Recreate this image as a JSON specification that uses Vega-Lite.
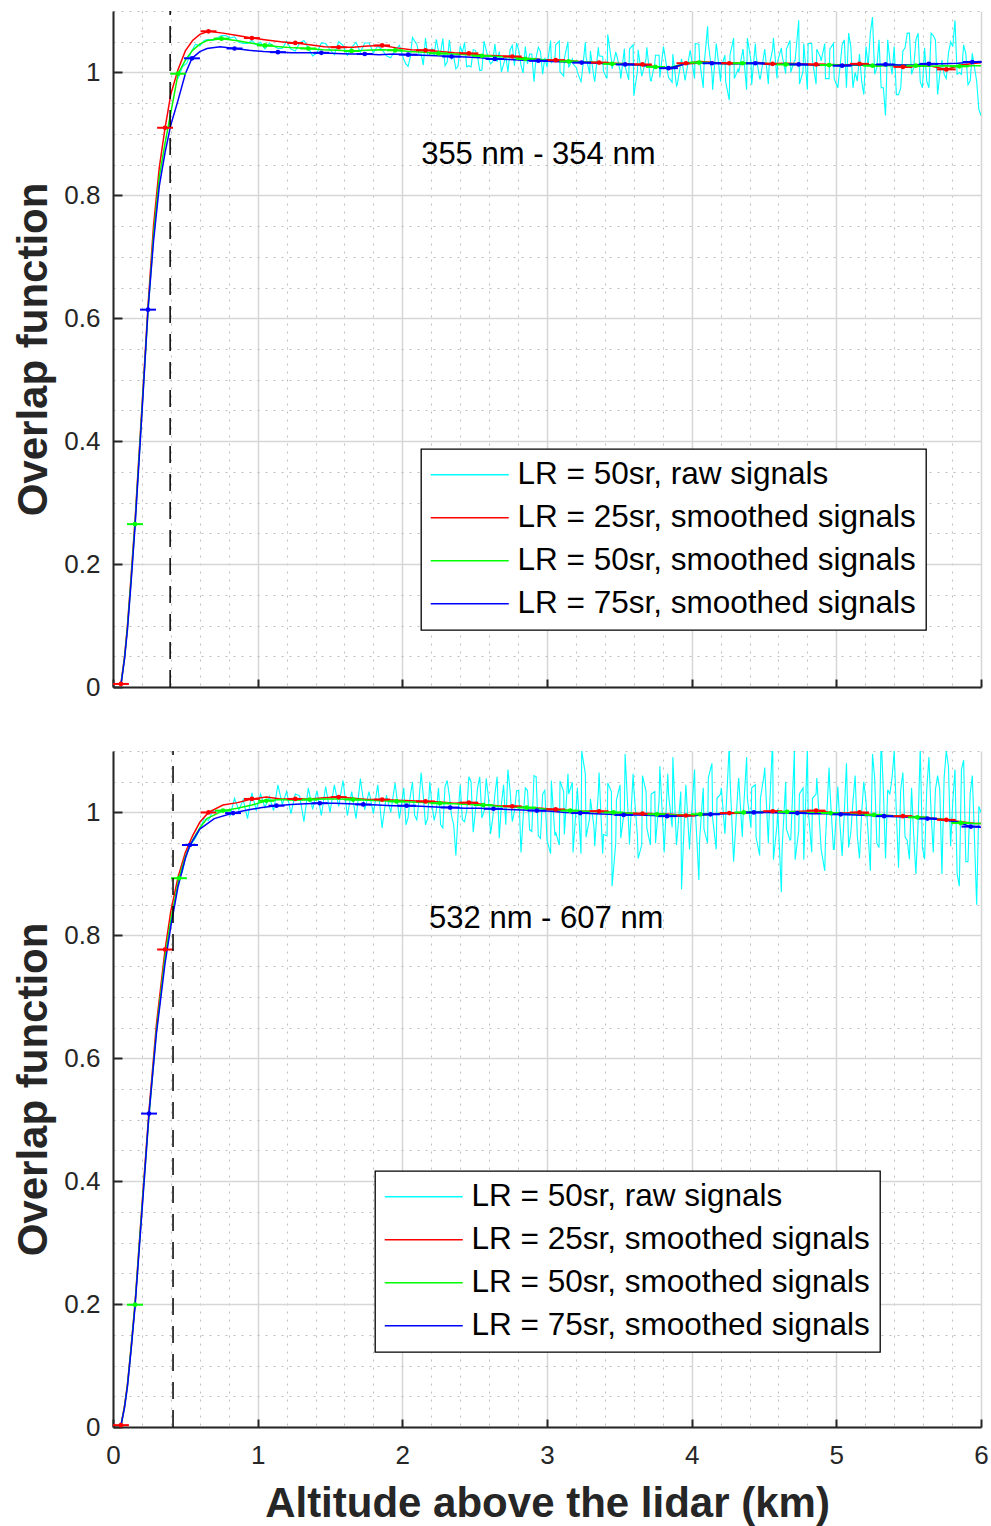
{
"$schema": "https://vega.github.io/schema/vega-lite/v6.json",
"padding": {"left": 12, "top": 10, "right": 10, "bottom": 4},
"background": "white",
"config": {"view": {"stroke": null}, "font": "Liberation Sans", "legend": {"strokeWidth": 1.3}},
"spacing": 64,
"bounds": "flush",
"resolve": {"scale": {"color": "independent", "x": "independent", "y": "independent"}},
"datasets": {"d": [
{"p":"a","s":"c","x":0.45,"y":0.990},{"p":"a","s":"c","x":0.48,"y":1.009},{"p":"a","s":"c","x":0.51,"y":1.015},{"p":"a","s":"c","x":0.54,"y":1.033},{"p":"a","s":"c","x":0.57,"y":1.046},{"p":"a","s":"c","x":0.60,"y":1.043},{"p":"a","s":"c","x":0.63,"y":1.052},{"p":"a","s":"c","x":0.66,"y":1.054},{"p":"a","s":"c","x":0.69,"y":1.052},{"p":"a","s":"c","x":0.72,"y":1.056},{"p":"a","s":"c","x":0.75,"y":1.060},{"p":"a","s":"c","x":0.78,"y":1.060},{"p":"a","s":"c","x":0.81,"y":1.056},{"p":"a","s":"c","x":0.84,"y":1.058},{"p":"a","s":"c","x":0.87,"y":1.049},{"p":"a","s":"c","x":0.90,"y":1.047},{"p":"a","s":"c","x":0.93,"y":1.047},{"p":"a","s":"c","x":0.96,"y":1.052},{"p":"a","s":"c","x":0.99,"y":1.045},
{"p":"a","s":"c","x":1.02,"y":1.049},{"p":"a","s":"c","x":1.05,"y":1.038},{"p":"a","s":"c","x":1.08,"y":1.048},{"p":"a","s":"c","x":1.11,"y":1.043},{"p":"a","s":"c","x":1.14,"y":1.039},{"p":"a","s":"c","x":1.17,"y":1.039},{"p":"a","s":"c","x":1.20,"y":1.051},{"p":"a","s":"c","x":1.23,"y":1.038},{"p":"a","s":"c","x":1.26,"y":1.035},{"p":"a","s":"c","x":1.29,"y":1.048},{"p":"a","s":"c","x":1.32,"y":1.052},{"p":"a","s":"c","x":1.35,"y":1.040},{"p":"a","s":"c","x":1.38,"y":1.027},{"p":"a","s":"c","x":1.41,"y":1.032},{"p":"a","s":"c","x":1.44,"y":1.048},{"p":"a","s":"c","x":1.47,"y":1.047},{"p":"a","s":"c","x":1.50,"y":1.037},{"p":"a","s":"c","x":1.53,"y":1.029},{"p":"a","s":"c","x":1.56,"y":1.050},{"p":"a","s":"c","x":1.59,"y":1.044},{"p":"a","s":"c","x":1.62,"y":1.028},{"p":"a","s":"c","x":1.65,"y":1.041},{"p":"a","s":"c","x":1.68,"y":1.049},{"p":"a","s":"c","x":1.71,"y":1.033},{"p":"a","s":"c","x":1.74,"y":1.048},{"p":"a","s":"c","x":1.77,"y":1.048},{"p":"a","s":"c","x":1.80,"y":1.032},{"p":"a","s":"c","x":1.83,"y":1.043},{"p":"a","s":"c","x":1.86,"y":1.037},{"p":"a","s":"c","x":1.89,"y":1.027},{"p":"a","s":"c","x":1.92,"y":1.024},{"p":"a","s":"c","x":1.95,"y":1.036},{"p":"a","s":"c","x":1.98,"y":1.044},
{"p":"a","s":"c","x":2.01,"y":1.021},{"p":"a","s":"c","x":2.04,"y":1.010},{"p":"a","s":"c","x":2.07,"y":1.057},{"p":"a","s":"c","x":2.10,"y":1.046},{"p":"a","s":"c","x":2.13,"y":1.030},{"p":"a","s":"c","x":2.16,"y":1.056},{"p":"a","s":"c","x":2.19,"y":1.029},{"p":"a","s":"c","x":2.22,"y":1.028},{"p":"a","s":"c","x":2.25,"y":1.034},{"p":"a","s":"c","x":2.28,"y":1.055},{"p":"a","s":"c","x":2.31,"y":1.017},{"p":"a","s":"c","x":2.34,"y":1.022},{"p":"a","s":"c","x":2.37,"y":1.006},{"p":"a","s":"c","x":2.40,"y":1.043},{"p":"a","s":"c","x":2.43,"y":1.049},{"p":"a","s":"c","x":2.46,"y":1.011},{"p":"a","s":"c","x":2.49,"y":1.037},{"p":"a","s":"c","x":2.52,"y":1.026},{"p":"a","s":"c","x":2.55,"y":1.004},{"p":"a","s":"c","x":2.58,"y":1.036},{"p":"a","s":"c","x":2.61,"y":1.014},{"p":"a","s":"c","x":2.64,"y":1.046},{"p":"a","s":"c","x":2.67,"y":1.034},{"p":"a","s":"c","x":2.70,"y":1.013},{"p":"a","s":"c","x":2.73,"y":1.001},{"p":"a","s":"c","x":2.76,"y":1.044},{"p":"a","s":"c","x":2.79,"y":1.048},{"p":"a","s":"c","x":2.82,"y":1.012},{"p":"a","s":"c","x":2.85,"y":1.042},{"p":"a","s":"c","x":2.88,"y":1.030},{"p":"a","s":"c","x":2.91,"y":0.985},{"p":"a","s":"c","x":2.94,"y":1.041},{"p":"a","s":"c","x":2.97,"y":0.997},
{"p":"a","s":"c","x":3.00,"y":1.009},{"p":"a","s":"c","x":3.03,"y":1.016},{"p":"a","s":"c","x":3.06,"y":1.045},{"p":"a","s":"c","x":3.09,"y":1.001},{"p":"a","s":"c","x":3.12,"y":1.023},{"p":"a","s":"c","x":3.15,"y":1.008},{"p":"a","s":"c","x":3.18,"y":1.014},{"p":"a","s":"c","x":3.21,"y":1.000},{"p":"a","s":"c","x":3.24,"y":0.993},{"p":"a","s":"c","x":3.27,"y":1.025},{"p":"a","s":"c","x":3.30,"y":1.035},{"p":"a","s":"c","x":3.33,"y":0.985},{"p":"a","s":"c","x":3.36,"y":1.027},{"p":"a","s":"c","x":3.39,"y":1.002},{"p":"a","s":"c","x":3.42,"y":1.062},{"p":"a","s":"c","x":3.45,"y":1.006},{"p":"a","s":"c","x":3.48,"y":1.030},{"p":"a","s":"c","x":3.51,"y":0.990},{"p":"a","s":"c","x":3.54,"y":1.010},{"p":"a","s":"c","x":3.57,"y":1.038},{"p":"a","s":"c","x":3.60,"y":0.962},{"p":"a","s":"c","x":3.63,"y":1.037},{"p":"a","s":"c","x":3.66,"y":0.998},{"p":"a","s":"c","x":3.69,"y":1.041},{"p":"a","s":"c","x":3.72,"y":0.986},{"p":"a","s":"c","x":3.75,"y":1.028},{"p":"a","s":"c","x":3.78,"y":0.992},{"p":"a","s":"c","x":3.81,"y":1.035},{"p":"a","s":"c","x":3.84,"y":0.992},{"p":"a","s":"c","x":3.87,"y":1.030},{"p":"a","s":"c","x":3.90,"y":0.980},{"p":"a","s":"c","x":3.93,"y":1.022},{"p":"a","s":"c","x":3.96,"y":0.995},{"p":"a","s":"c","x":3.99,"y":1.036},
{"p":"a","s":"c","x":4.02,"y":0.990},{"p":"a","s":"c","x":4.05,"y":1.046},{"p":"a","s":"c","x":4.08,"y":0.975},{"p":"a","s":"c","x":4.11,"y":1.075},{"p":"a","s":"c","x":4.14,"y":1.000},{"p":"a","s":"c","x":4.17,"y":1.047},{"p":"a","s":"c","x":4.20,"y":0.985},{"p":"a","s":"c","x":4.23,"y":1.028},{"p":"a","s":"c","x":4.26,"y":0.955},{"p":"a","s":"c","x":4.29,"y":1.056},{"p":"a","s":"c","x":4.32,"y":1.005},{"p":"a","s":"c","x":4.35,"y":1.032},{"p":"a","s":"c","x":4.38,"y":0.972},{"p":"a","s":"c","x":4.41,"y":1.019},{"p":"a","s":"c","x":4.44,"y":1.047},{"p":"a","s":"c","x":4.47,"y":0.990},{"p":"a","s":"c","x":4.50,"y":1.030},{"p":"a","s":"c","x":4.53,"y":0.981},{"p":"a","s":"c","x":4.56,"y":1.038},{"p":"a","s":"c","x":4.59,"y":0.990},{"p":"a","s":"c","x":4.62,"y":1.040},{"p":"a","s":"c","x":4.65,"y":0.998},{"p":"a","s":"c","x":4.68,"y":1.052},{"p":"a","s":"c","x":4.71,"y":1.019},{"p":"a","s":"c","x":4.74,"y":1.085},{"p":"a","s":"c","x":4.77,"y":1.002},{"p":"a","s":"c","x":4.80,"y":0.972},{"p":"a","s":"c","x":4.83,"y":1.047},{"p":"a","s":"c","x":4.86,"y":0.981},{"p":"a","s":"c","x":4.89,"y":1.025},{"p":"a","s":"c","x":4.92,"y":1.047},{"p":"a","s":"c","x":4.95,"y":0.990},{"p":"a","s":"c","x":4.98,"y":1.047},
{"p":"a","s":"c","x":5.01,"y":0.975},{"p":"a","s":"c","x":5.04,"y":1.045},{"p":"a","s":"c","x":5.07,"y":0.975},{"p":"a","s":"c","x":5.10,"y":1.042},{"p":"a","s":"c","x":5.13,"y":1.000},{"p":"a","s":"c","x":5.16,"y":1.030},{"p":"a","s":"c","x":5.19,"y":0.964},{"p":"a","s":"c","x":5.22,"y":1.010},{"p":"a","s":"c","x":5.25,"y":1.090},{"p":"a","s":"c","x":5.28,"y":1.008},{"p":"a","s":"c","x":5.31,"y":0.975},{"p":"a","s":"c","x":5.34,"y":0.930},{"p":"a","s":"c","x":5.37,"y":1.020},{"p":"a","s":"c","x":5.40,"y":1.042},{"p":"a","s":"c","x":5.43,"y":0.964},{"p":"a","s":"c","x":5.46,"y":1.035},{"p":"a","s":"c","x":5.49,"y":1.064},{"p":"a","s":"c","x":5.52,"y":0.997},{"p":"a","s":"c","x":5.55,"y":1.053},{"p":"a","s":"c","x":5.58,"y":0.985},{"p":"a","s":"c","x":5.61,"y":1.040},{"p":"a","s":"c","x":5.64,"y":0.975},{"p":"a","s":"c","x":5.67,"y":1.060},{"p":"a","s":"c","x":5.70,"y":0.964},{"p":"a","s":"c","x":5.73,"y":1.020},{"p":"a","s":"c","x":5.76,"y":0.990},{"p":"a","s":"c","x":5.79,"y":1.050},{"p":"a","s":"c","x":5.82,"y":1.085},{"p":"a","s":"c","x":5.85,"y":1.000},{"p":"a","s":"c","x":5.88,"y":1.045},{"p":"a","s":"c","x":5.91,"y":0.980},{"p":"a","s":"c","x":5.94,"y":1.031},{"p":"a","s":"c","x":5.97,"y":0.986},{"p":"a","s":"c","x":6.00,"y":0.930},
{"p":"a","s":"c","x":2.025,"y":1.014},{"p":"a","s":"c","x":2.055,"y":1.025},{"p":"a","s":"c","x":2.085,"y":1.051},{"p":"a","s":"c","x":2.115,"y":1.029},{"p":"a","s":"c","x":2.145,"y":1.012},{"p":"a","s":"c","x":2.175,"y":1.028},{"p":"a","s":"c","x":2.205,"y":1.039},{"p":"a","s":"c","x":2.235,"y":1.054},{"p":"a","s":"c","x":2.265,"y":1.033},{"p":"a","s":"c","x":2.295,"y":1.011},{"p":"a","s":"c","x":2.325,"y":1.053},{"p":"a","s":"c","x":2.355,"y":1.026},{"p":"a","s":"c","x":2.385,"y":1.010},{"p":"a","s":"c","x":2.415,"y":1.032},{"p":"a","s":"c","x":2.445,"y":1.009},{"p":"a","s":"c","x":2.475,"y":1.009},{"p":"a","s":"c","x":2.505,"y":1.036},{"p":"a","s":"c","x":2.535,"y":1.003},{"p":"a","s":"c","x":2.565,"y":1.051},{"p":"a","s":"c","x":2.595,"y":1.023},{"p":"a","s":"c","x":2.625,"y":1.018},{"p":"a","s":"c","x":2.655,"y":1.017},{"p":"a","s":"c","x":2.685,"y":1.001},{"p":"a","s":"c","x":2.715,"y":1.027},{"p":"a","s":"c","x":2.745,"y":1.037},{"p":"a","s":"c","x":2.775,"y":1.011},{"p":"a","s":"c","x":2.805,"y":1.036},{"p":"a","s":"c","x":2.835,"y":0.999},{"p":"a","s":"c","x":2.865,"y":1.014},{"p":"a","s":"c","x":2.895,"y":1.030},{"p":"a","s":"c","x":2.925,"y":1.025},{"p":"a","s":"c","x":2.955,"y":1.034},{"p":"a","s":"c","x":2.985,"y":1.024},
{"p":"a","s":"c","x":3.025,"y":1.052},{"p":"a","s":"c","x":3.055,"y":1.023},{"p":"a","s":"c","x":3.085,"y":1.051},{"p":"a","s":"c","x":3.115,"y":0.994},{"p":"a","s":"c","x":3.145,"y":1.050},{"p":"a","s":"c","x":3.175,"y":1.022},{"p":"a","s":"c","x":3.205,"y":1.007},{"p":"a","s":"c","x":3.235,"y":0.985},{"p":"a","s":"c","x":3.265,"y":1.049},{"p":"a","s":"c","x":3.295,"y":0.998},{"p":"a","s":"c","x":3.325,"y":0.991},{"p":"a","s":"c","x":3.355,"y":1.041},{"p":"a","s":"c","x":3.385,"y":1.026},{"p":"a","s":"c","x":3.415,"y":0.990},{"p":"a","s":"c","x":3.445,"y":1.020},{"p":"a","s":"c","x":3.475,"y":1.032},{"p":"a","s":"c","x":3.505,"y":1.003},{"p":"a","s":"c","x":3.535,"y":1.039},{"p":"a","s":"c","x":3.565,"y":0.988},{"p":"a","s":"c","x":3.595,"y":1.045},{"p":"a","s":"c","x":3.625,"y":1.002},{"p":"a","s":"c","x":3.655,"y":0.994},{"p":"a","s":"c","x":3.685,"y":1.023},{"p":"a","s":"c","x":3.715,"y":0.987},{"p":"a","s":"c","x":3.745,"y":1.015},{"p":"a","s":"c","x":3.775,"y":1.028},{"p":"a","s":"c","x":3.805,"y":1.042},{"p":"a","s":"c","x":3.835,"y":0.998},{"p":"a","s":"c","x":3.865,"y":0.984},{"p":"a","s":"c","x":3.895,"y":0.978},{"p":"a","s":"c","x":3.925,"y":1.015},{"p":"a","s":"c","x":3.955,"y":0.987},{"p":"a","s":"c","x":3.985,"y":1.030},
{"p":"a","s":"c","x":4.025,"y":1.047},{"p":"a","s":"c","x":4.055,"y":1.019},{"p":"a","s":"c","x":4.085,"y":1.009},{"p":"a","s":"c","x":4.115,"y":1.047},{"p":"a","s":"c","x":4.145,"y":0.972},{"p":"a","s":"c","x":4.175,"y":1.038},{"p":"a","s":"c","x":4.205,"y":1.009},{"p":"a","s":"c","x":4.235,"y":0.985},{"p":"a","s":"c","x":4.265,"y":1.028},{"p":"a","s":"c","x":4.295,"y":0.990},{"p":"a","s":"c","x":4.325,"y":1.000},{"p":"a","s":"c","x":4.355,"y":1.038},{"p":"a","s":"c","x":4.385,"y":1.056},{"p":"a","s":"c","x":4.415,"y":0.980},{"p":"a","s":"c","x":4.445,"y":1.028},{"p":"a","s":"c","x":4.475,"y":0.990},{"p":"a","s":"c","x":4.505,"y":1.038},{"p":"a","s":"c","x":4.535,"y":1.009},{"p":"a","s":"c","x":4.565,"y":1.056},{"p":"a","s":"c","x":4.595,"y":1.019},{"p":"a","s":"c","x":4.625,"y":1.028},{"p":"a","s":"c","x":4.655,"y":1.038},{"p":"a","s":"c","x":4.685,"y":1.000},{"p":"a","s":"c","x":4.715,"y":1.019},{"p":"a","s":"c","x":4.745,"y":0.981},{"p":"a","s":"c","x":4.775,"y":1.047},{"p":"a","s":"c","x":4.805,"y":1.047},{"p":"a","s":"c","x":4.835,"y":1.019},{"p":"a","s":"c","x":4.865,"y":1.038},{"p":"a","s":"c","x":4.895,"y":1.019},{"p":"a","s":"c","x":4.925,"y":0.990},{"p":"a","s":"c","x":4.955,"y":1.038},{"p":"a","s":"c","x":4.985,"y":0.990},
{"p":"a","s":"c","x":5.025,"y":1.008},{"p":"a","s":"c","x":5.055,"y":1.053},{"p":"a","s":"c","x":5.085,"y":1.064},{"p":"a","s":"c","x":5.115,"y":0.975},{"p":"a","s":"c","x":5.145,"y":0.986},{"p":"a","s":"c","x":5.175,"y":0.986},{"p":"a","s":"c","x":5.205,"y":1.042},{"p":"a","s":"c","x":5.235,"y":1.064},{"p":"a","s":"c","x":5.265,"y":0.997},{"p":"a","s":"c","x":5.295,"y":1.053},{"p":"a","s":"c","x":5.325,"y":0.975},{"p":"a","s":"c","x":5.355,"y":1.053},{"p":"a","s":"c","x":5.385,"y":0.997},{"p":"a","s":"c","x":5.415,"y":0.964},{"p":"a","s":"c","x":5.445,"y":0.975},{"p":"a","s":"c","x":5.475,"y":1.040},{"p":"a","s":"c","x":5.505,"y":1.064},{"p":"a","s":"c","x":5.535,"y":1.008},{"p":"a","s":"c","x":5.565,"y":1.064},{"p":"a","s":"c","x":5.595,"y":0.975},{"p":"a","s":"c","x":5.625,"y":0.986},{"p":"a","s":"c","x":5.655,"y":1.064},{"p":"a","s":"c","x":5.685,"y":1.053},{"p":"a","s":"c","x":5.715,"y":0.997},{"p":"a","s":"c","x":5.745,"y":0.997},{"p":"a","s":"c","x":5.775,"y":1.031},{"p":"a","s":"c","x":5.805,"y":1.042},{"p":"a","s":"c","x":5.835,"y":0.997},{"p":"a","s":"c","x":5.865,"y":0.997},{"p":"a","s":"c","x":5.895,"y":1.031},{"p":"a","s":"c","x":5.925,"y":0.986},{"p":"a","s":"c","x":5.955,"y":1.008},{"p":"a","s":"c","x":5.985,"y":0.940},

{"p":"a","s":"r","x":0.055,"y":0.005,"m":1,"e":0.055},{"p":"a","s":"r","x":0.08,"y":0.05},{"p":"a","s":"r","x":0.1,"y":0.1},{"p":"a","s":"r","x":0.125,"y":0.18},{"p":"a","s":"r","x":0.152,"y":0.27},{"p":"a","s":"r","x":0.2,"y":0.455},{"p":"a","s":"r","x":0.242,"y":0.62},{"p":"a","s":"r","x":0.28,"y":0.75},{"p":"a","s":"r","x":0.32,"y":0.845},{"p":"a","s":"r","x":0.36,"y":0.91,"m":1,"e":0.055},{"p":"a","s":"r","x":0.4,"y":0.965},{"p":"a","s":"r","x":0.45,"y":1.005},{"p":"a","s":"r","x":0.5,"y":1.035},{"p":"a","s":"r","x":0.55,"y":1.052},{"p":"a","s":"r","x":0.6,"y":1.062},{"p":"a","s":"r","x":0.66,"y":1.067,"m":1,"e":0.055},{"p":"a","s":"r","x":0.76,"y":1.064},{"p":"a","s":"r","x":0.86,"y":1.06},{"p":"a","s":"r","x":0.96,"y":1.056,"m":1,"e":0.055},{"p":"a","s":"r","x":1.06,"y":1.053},{"p":"a","s":"r","x":1.16,"y":1.05},{"p":"a","s":"r","x":1.26,"y":1.048,"m":1,"e":0.055},{"p":"a","s":"r","x":1.36,"y":1.045},{"p":"a","s":"r","x":1.46,"y":1.042},{"p":"a","s":"r","x":1.56,"y":1.041,"m":1,"e":0.055},{"p":"a","s":"r","x":1.66,"y":1.041},{"p":"a","s":"r","x":1.76,"y":1.043},{"p":"a","s":"r","x":1.86,"y":1.044,"m":1,"e":0.055},{"p":"a","s":"r","x":1.96,"y":1.04},{"p":"a","s":"r","x":2.06,"y":1.037},{"p":"a","s":"r","x":2.16,"y":1.036,"m":1,"e":0.065},{"p":"a","s":"r","x":2.26,"y":1.034},{"p":"a","s":"r","x":2.36,"y":1.032},{"p":"a","s":"r","x":2.46,"y":1.031,"m":1,"e":0.065},{"p":"a","s":"r","x":2.56,"y":1.028},{"p":"a","s":"r","x":2.66,"y":1.027},{"p":"a","s":"r","x":2.76,"y":1.026,"m":1,"e":0.065},{"p":"a","s":"r","x":2.86,"y":1.023},{"p":"a","s":"r","x":2.96,"y":1.021},{"p":"a","s":"r","x":3.06,"y":1.02,"m":1,"e":0.065},{"p":"a","s":"r","x":3.16,"y":1.019},{"p":"a","s":"r","x":3.26,"y":1.017},{"p":"a","s":"r","x":3.36,"y":1.016,"m":1,"e":0.065},{"p":"a","s":"r","x":3.46,"y":1.015},{"p":"a","s":"r","x":3.56,"y":1.014},{"p":"a","s":"r","x":3.66,"y":1.013,"m":1,"e":0.065},{"p":"a","s":"r","x":3.76,"y":1.009},{"p":"a","s":"r","x":3.86,"y":1.006},{"p":"a","s":"r","x":3.96,"y":1.015,"m":1,"e":0.065},{"p":"a","s":"r","x":4.06,"y":1.018},{"p":"a","s":"r","x":4.16,"y":1.016},{"p":"a","s":"r","x":4.26,"y":1.015,"m":1,"e":0.065},{"p":"a","s":"r","x":4.36,"y":1.015},{"p":"a","s":"r","x":4.46,"y":1.016},{"p":"a","s":"r","x":4.56,"y":1.014,"m":1,"e":0.065},{"p":"a","s":"r","x":4.66,"y":1.015},{"p":"a","s":"r","x":4.76,"y":1.014},{"p":"a","s":"r","x":4.86,"y":1.013,"m":1,"e":0.065},{"p":"a","s":"r","x":4.96,"y":1.013},{"p":"a","s":"r","x":5.06,"y":1.012},{"p":"a","s":"r","x":5.16,"y":1.014,"m":1,"e":0.065},{"p":"a","s":"r","x":5.26,"y":1.011},{"p":"a","s":"r","x":5.36,"y":1.012},{"p":"a","s":"r","x":5.46,"y":1.009,"m":1,"e":0.065},{"p":"a","s":"r","x":5.56,"y":1.01},{"p":"a","s":"r","x":5.66,"y":1.01},{"p":"a","s":"r","x":5.76,"y":1.005,"m":1,"e":0.065},{"p":"a","s":"r","x":5.86,"y":1.012},{"p":"a","s":"r","x":5.96,"y":1.015},{"p":"a","s":"r","x":6.0,"y":1.016},

{"p":"a","s":"g","x":0.055,"y":0.004},{"p":"a","s":"g","x":0.08,"y":0.048},{"p":"a","s":"g","x":0.1,"y":0.097},{"p":"a","s":"g","x":0.125,"y":0.175},{"p":"a","s":"g","x":0.152,"y":0.265,"m":1,"e":0.055},{"p":"a","s":"g","x":0.2,"y":0.45},{"p":"a","s":"g","x":0.242,"y":0.612},{"p":"a","s":"g","x":0.28,"y":0.735},{"p":"a","s":"g","x":0.32,"y":0.83},{"p":"a","s":"g","x":0.36,"y":0.885},{"p":"a","s":"g","x":0.4,"y":0.935},{"p":"a","s":"g","x":0.45,"y":0.998,"m":1,"e":0.055},{"p":"a","s":"g","x":0.5,"y":1.02},{"p":"a","s":"g","x":0.55,"y":1.036},{"p":"a","s":"g","x":0.6,"y":1.046},{"p":"a","s":"g","x":0.65,"y":1.052},{"p":"a","s":"g","x":0.75,"y":1.055,"m":1,"e":0.055},{"p":"a","s":"g","x":0.85,"y":1.052},{"p":"a","s":"g","x":0.95,"y":1.048},{"p":"a","s":"g","x":1.05,"y":1.044,"m":1,"e":0.055},{"p":"a","s":"g","x":1.15,"y":1.042},{"p":"a","s":"g","x":1.25,"y":1.04},{"p":"a","s":"g","x":1.35,"y":1.039,"m":1,"e":0.055},{"p":"a","s":"g","x":1.45,"y":1.037},{"p":"a","s":"g","x":1.55,"y":1.036},{"p":"a","s":"g","x":1.65,"y":1.035,"m":1,"e":0.055},{"p":"a","s":"g","x":1.75,"y":1.036},{"p":"a","s":"g","x":1.85,"y":1.037},{"p":"a","s":"g","x":1.95,"y":1.036,"m":1,"e":0.055},{"p":"a","s":"g","x":2.05,"y":1.034},{"p":"a","s":"g","x":2.15,"y":1.033},{"p":"a","s":"g","x":2.25,"y":1.031,"m":1,"e":0.065},{"p":"a","s":"g","x":2.35,"y":1.03},{"p":"a","s":"g","x":2.45,"y":1.029},{"p":"a","s":"g","x":2.55,"y":1.027,"m":1,"e":0.065},{"p":"a","s":"g","x":2.65,"y":1.026},{"p":"a","s":"g","x":2.75,"y":1.025},{"p":"a","s":"g","x":2.85,"y":1.022,"m":1,"e":0.065},{"p":"a","s":"g","x":2.95,"y":1.021},{"p":"a","s":"g","x":3.05,"y":1.02},{"p":"a","s":"g","x":3.15,"y":1.018,"m":1,"e":0.065},{"p":"a","s":"g","x":3.25,"y":1.017},{"p":"a","s":"g","x":3.35,"y":1.016},{"p":"a","s":"g","x":3.45,"y":1.014,"m":1,"e":0.065},{"p":"a","s":"g","x":3.55,"y":1.013},{"p":"a","s":"g","x":3.65,"y":1.012},{"p":"a","s":"g","x":3.75,"y":1.009,"m":1,"e":0.065},{"p":"a","s":"g","x":3.85,"y":1.008},{"p":"a","s":"g","x":3.95,"y":1.014},{"p":"a","s":"g","x":4.05,"y":1.016,"m":1,"e":0.065},{"p":"a","s":"g","x":4.15,"y":1.015},{"p":"a","s":"g","x":4.25,"y":1.014},{"p":"a","s":"g","x":4.35,"y":1.015,"m":1,"e":0.065},{"p":"a","s":"g","x":4.45,"y":1.015},{"p":"a","s":"g","x":4.55,"y":1.014},{"p":"a","s":"g","x":4.65,"y":1.013,"m":1,"e":0.065},{"p":"a","s":"g","x":4.75,"y":1.013},{"p":"a","s":"g","x":4.85,"y":1.012},{"p":"a","s":"g","x":4.95,"y":1.012,"m":1,"e":0.065},{"p":"a","s":"g","x":5.05,"y":1.011},{"p":"a","s":"g","x":5.15,"y":1.012},{"p":"a","s":"g","x":5.25,"y":1.011,"m":1,"e":0.065},{"p":"a","s":"g","x":5.35,"y":1.011},{"p":"a","s":"g","x":5.45,"y":1.012},{"p":"a","s":"g","x":5.55,"y":1.011,"m":1,"e":0.065},{"p":"a","s":"g","x":5.65,"y":1.01},{"p":"a","s":"g","x":5.75,"y":1.011},{"p":"a","s":"g","x":5.85,"y":1.01,"m":1,"e":0.065},{"p":"a","s":"g","x":5.95,"y":1.011},{"p":"a","s":"g","x":6.0,"y":1.011},

{"p":"a","s":"b","x":0.055,"y":0.003},{"p":"a","s":"b","x":0.08,"y":0.046},{"p":"a","s":"b","x":0.1,"y":0.094},{"p":"a","s":"b","x":0.125,"y":0.17},{"p":"a","s":"b","x":0.152,"y":0.26},{"p":"a","s":"b","x":0.2,"y":0.445},{"p":"a","s":"b","x":0.242,"y":0.614,"m":1,"e":0.055},{"p":"a","s":"b","x":0.28,"y":0.725},{"p":"a","s":"b","x":0.32,"y":0.815},{"p":"a","s":"b","x":0.36,"y":0.87},{"p":"a","s":"b","x":0.4,"y":0.915},{"p":"a","s":"b","x":0.45,"y":0.955},{"p":"a","s":"b","x":0.5,"y":0.998},{"p":"a","s":"b","x":0.546,"y":1.023,"m":1,"e":0.055},{"p":"a","s":"b","x":0.6,"y":1.034},{"p":"a","s":"b","x":0.65,"y":1.039},{"p":"a","s":"b","x":0.74,"y":1.042},{"p":"a","s":"b","x":0.84,"y":1.039,"m":1,"e":0.055},{"p":"a","s":"b","x":0.94,"y":1.036},{"p":"a","s":"b","x":1.04,"y":1.034},{"p":"a","s":"b","x":1.14,"y":1.033,"m":1,"e":0.055},{"p":"a","s":"b","x":1.24,"y":1.032},{"p":"a","s":"b","x":1.34,"y":1.032},{"p":"a","s":"b","x":1.44,"y":1.032,"m":1,"e":0.055},{"p":"a","s":"b","x":1.54,"y":1.031},{"p":"a","s":"b","x":1.64,"y":1.03},{"p":"a","s":"b","x":1.74,"y":1.03,"m":1,"e":0.055},{"p":"a","s":"b","x":1.84,"y":1.029},{"p":"a","s":"b","x":1.94,"y":1.03},{"p":"a","s":"b","x":2.04,"y":1.029,"m":1,"e":0.065},{"p":"a","s":"b","x":2.14,"y":1.028},{"p":"a","s":"b","x":2.24,"y":1.027},{"p":"a","s":"b","x":2.34,"y":1.026,"m":1,"e":0.065},{"p":"a","s":"b","x":2.44,"y":1.025},{"p":"a","s":"b","x":2.54,"y":1.024},{"p":"a","s":"b","x":2.64,"y":1.022,"m":1,"e":0.065},{"p":"a","s":"b","x":2.74,"y":1.021},{"p":"a","s":"b","x":2.84,"y":1.02},{"p":"a","s":"b","x":2.94,"y":1.019,"m":1,"e":0.065},{"p":"a","s":"b","x":3.04,"y":1.018},{"p":"a","s":"b","x":3.14,"y":1.017},{"p":"a","s":"b","x":3.24,"y":1.016,"m":1,"e":0.065},{"p":"a","s":"b","x":3.34,"y":1.015},{"p":"a","s":"b","x":3.44,"y":1.014},{"p":"a","s":"b","x":3.54,"y":1.013,"m":1,"e":0.065},{"p":"a","s":"b","x":3.64,"y":1.012},{"p":"a","s":"b","x":3.74,"y":1.009},{"p":"a","s":"b","x":3.84,"y":1.007,"m":1,"e":0.065},{"p":"a","s":"b","x":3.94,"y":1.013},{"p":"a","s":"b","x":4.04,"y":1.016},{"p":"a","s":"b","x":4.14,"y":1.015,"m":1,"e":0.065},{"p":"a","s":"b","x":4.24,"y":1.014},{"p":"a","s":"b","x":4.34,"y":1.014},{"p":"a","s":"b","x":4.44,"y":1.015,"m":1,"e":0.065},{"p":"a","s":"b","x":4.54,"y":1.013},{"p":"a","s":"b","x":4.64,"y":1.014},{"p":"a","s":"b","x":4.74,"y":1.013,"m":1,"e":0.065},{"p":"a","s":"b","x":4.84,"y":1.012},{"p":"a","s":"b","x":4.94,"y":1.012},{"p":"a","s":"b","x":5.04,"y":1.011,"m":1,"e":0.065},{"p":"a","s":"b","x":5.14,"y":1.013},{"p":"a","s":"b","x":5.24,"y":1.012},{"p":"a","s":"b","x":5.34,"y":1.013,"m":1,"e":0.065},{"p":"a","s":"b","x":5.44,"y":1.012},{"p":"a","s":"b","x":5.54,"y":1.012},{"p":"a","s":"b","x":5.64,"y":1.014,"m":1,"e":0.065},{"p":"a","s":"b","x":5.74,"y":1.014},{"p":"a","s":"b","x":5.84,"y":1.015},{"p":"a","s":"b","x":5.94,"y":1.017,"m":1,"e":0.065},{"p":"a","s":"b","x":6.0,"y":1.018},

{"p":"b","s":"c","x":0.45,"y":0.889},{"p":"b","s":"c","x":0.48,"y":0.904},{"p":"b","s":"c","x":0.51,"y":0.936},{"p":"b","s":"c","x":0.54,"y":0.948},{"p":"b","s":"c","x":0.57,"y":0.958},{"p":"b","s":"c","x":0.60,"y":0.973},{"p":"b","s":"c","x":0.63,"y":0.990},{"p":"b","s":"c","x":0.66,"y":0.987},{"p":"b","s":"c","x":0.69,"y":1.003},{"p":"b","s":"c","x":0.72,"y":1.002},{"p":"b","s":"c","x":0.75,"y":1.001},{"p":"b","s":"c","x":0.78,"y":1.003},{"p":"b","s":"c","x":0.81,"y":0.995},{"p":"b","s":"c","x":0.84,"y":1.023},{"p":"b","s":"c","x":0.87,"y":1.004},{"p":"b","s":"c","x":0.90,"y":1.021},{"p":"b","s":"c","x":0.93,"y":0.990},{"p":"b","s":"c","x":0.96,"y":1.032},{"p":"b","s":"c","x":0.99,"y":1.004},
{"p":"b","s":"c","x":1.02,"y":1.030},{"p":"b","s":"c","x":1.05,"y":1.008},{"p":"b","s":"c","x":1.08,"y":1.026},{"p":"b","s":"c","x":1.11,"y":1.003},{"p":"b","s":"c","x":1.14,"y":1.045},{"p":"b","s":"c","x":1.17,"y":1.013},{"p":"b","s":"c","x":1.20,"y":1.034},{"p":"b","s":"c","x":1.23,"y":0.998},{"p":"b","s":"c","x":1.26,"y":1.030},{"p":"b","s":"c","x":1.29,"y":1.027},{"p":"b","s":"c","x":1.32,"y":0.985},{"p":"b","s":"c","x":1.35,"y":1.040},{"p":"b","s":"c","x":1.38,"y":1.005},{"p":"b","s":"c","x":1.41,"y":1.035},{"p":"b","s":"c","x":1.44,"y":0.995},{"p":"b","s":"c","x":1.47,"y":1.042},{"p":"b","s":"c","x":1.50,"y":1.000},{"p":"b","s":"c","x":1.53,"y":1.045},{"p":"b","s":"c","x":1.56,"y":1.010},{"p":"b","s":"c","x":1.59,"y":1.052},{"p":"b","s":"c","x":1.62,"y":0.995},{"p":"b","s":"c","x":1.65,"y":1.034},{"p":"b","s":"c","x":1.68,"y":0.990},{"p":"b","s":"c","x":1.71,"y":1.055},{"p":"b","s":"c","x":1.74,"y":1.004},{"p":"b","s":"c","x":1.77,"y":1.034},{"p":"b","s":"c","x":1.80,"y":0.998},{"p":"b","s":"c","x":1.83,"y":1.045},{"p":"b","s":"c","x":1.86,"y":0.975},{"p":"b","s":"c","x":1.89,"y":1.028},{"p":"b","s":"c","x":1.92,"y":1.000},{"p":"b","s":"c","x":1.95,"y":1.048},{"p":"b","s":"c","x":1.98,"y":0.990},
{"p":"b","s":"c","x":2.01,"y":1.040},{"p":"b","s":"c","x":2.04,"y":0.992},{"p":"b","s":"c","x":2.07,"y":1.050},{"p":"b","s":"c","x":2.10,"y":0.988},{"p":"b","s":"c","x":2.13,"y":1.065},{"p":"b","s":"c","x":2.16,"y":0.980},{"p":"b","s":"c","x":2.19,"y":1.050},{"p":"b","s":"c","x":2.22,"y":0.987},{"p":"b","s":"c","x":2.25,"y":1.040},{"p":"b","s":"c","x":2.28,"y":0.975},{"p":"b","s":"c","x":2.31,"y":1.052},{"p":"b","s":"c","x":2.34,"y":0.995},{"p":"b","s":"c","x":2.37,"y":0.930},{"p":"b","s":"c","x":2.40,"y":1.045},{"p":"b","s":"c","x":2.43,"y":0.985},{"p":"b","s":"c","x":2.46,"y":1.058},{"p":"b","s":"c","x":2.49,"y":0.968},{"p":"b","s":"c","x":2.52,"y":1.040},{"p":"b","s":"c","x":2.55,"y":0.991},{"p":"b","s":"c","x":2.58,"y":1.055},{"p":"b","s":"c","x":2.61,"y":0.965},{"p":"b","s":"c","x":2.64,"y":1.030},{"p":"b","s":"c","x":2.67,"y":0.958},{"p":"b","s":"c","x":2.70,"y":1.045},{"p":"b","s":"c","x":2.73,"y":1.070},{"p":"b","s":"c","x":2.76,"y":0.985},{"p":"b","s":"c","x":2.79,"y":1.035},{"p":"b","s":"c","x":2.82,"y":0.935},{"p":"b","s":"c","x":2.85,"y":1.040},{"p":"b","s":"c","x":2.88,"y":0.972},{"p":"b","s":"c","x":2.91,"y":1.060},{"p":"b","s":"c","x":2.94,"y":0.962},{"p":"b","s":"c","x":2.97,"y":1.030},
{"p":"b","s":"c","x":3.00,"y":0.955},{"p":"b","s":"c","x":3.03,"y":1.052},{"p":"b","s":"c","x":3.06,"y":0.968},{"p":"b","s":"c","x":3.09,"y":1.051},{"p":"b","s":"c","x":3.12,"y":0.964},{"p":"b","s":"c","x":3.15,"y":1.030},{"p":"b","s":"c","x":3.18,"y":0.935},{"p":"b","s":"c","x":3.21,"y":1.040},{"p":"b","s":"c","x":3.24,"y":1.100},{"p":"b","s":"c","x":3.27,"y":0.960},{"p":"b","s":"c","x":3.30,"y":1.022},{"p":"b","s":"c","x":3.33,"y":0.945},{"p":"b","s":"c","x":3.36,"y":1.065},{"p":"b","s":"c","x":3.39,"y":0.964},{"p":"b","s":"c","x":3.42,"y":1.048},{"p":"b","s":"c","x":3.45,"y":0.880},{"p":"b","s":"c","x":3.48,"y":1.020},{"p":"b","s":"c","x":3.51,"y":0.958},{"p":"b","s":"c","x":3.54,"y":1.095},{"p":"b","s":"c","x":3.57,"y":0.948},{"p":"b","s":"c","x":3.60,"y":1.040},{"p":"b","s":"c","x":3.63,"y":0.925},{"p":"b","s":"c","x":3.66,"y":1.060},{"p":"b","s":"c","x":3.69,"y":0.975},{"p":"b","s":"c","x":3.72,"y":1.030},{"p":"b","s":"c","x":3.75,"y":0.950},{"p":"b","s":"c","x":3.78,"y":1.075},{"p":"b","s":"c","x":3.81,"y":0.935},{"p":"b","s":"c","x":3.84,"y":1.030},{"p":"b","s":"c","x":3.87,"y":1.090},{"p":"b","s":"c","x":3.90,"y":0.960},{"p":"b","s":"c","x":3.93,"y":0.875},{"p":"b","s":"c","x":3.96,"y":1.045},{"p":"b","s":"c","x":3.99,"y":0.965},
{"p":"b","s":"c","x":4.02,"y":1.070},{"p":"b","s":"c","x":4.05,"y":0.890},{"p":"b","s":"c","x":4.08,"y":1.040},{"p":"b","s":"c","x":4.11,"y":0.950},{"p":"b","s":"c","x":4.14,"y":1.080},{"p":"b","s":"c","x":4.17,"y":0.940},{"p":"b","s":"c","x":4.20,"y":1.030},{"p":"b","s":"c","x":4.23,"y":0.965},{"p":"b","s":"c","x":4.26,"y":1.110},{"p":"b","s":"c","x":4.29,"y":0.920},{"p":"b","s":"c","x":4.32,"y":1.040},{"p":"b","s":"c","x":4.35,"y":0.960},{"p":"b","s":"c","x":4.38,"y":1.090},{"p":"b","s":"c","x":4.41,"y":0.975},{"p":"b","s":"c","x":4.44,"y":1.045},{"p":"b","s":"c","x":4.47,"y":0.930},{"p":"b","s":"c","x":4.50,"y":1.060},{"p":"b","s":"c","x":4.53,"y":0.950},{"p":"b","s":"c","x":4.56,"y":1.120},{"p":"b","s":"c","x":4.59,"y":0.980},{"p":"b","s":"c","x":4.62,"y":0.870},{"p":"b","s":"c","x":4.65,"y":1.050},{"p":"b","s":"c","x":4.68,"y":0.955},{"p":"b","s":"c","x":4.71,"y":1.100},{"p":"b","s":"c","x":4.74,"y":0.970},{"p":"b","s":"c","x":4.77,"y":1.040},{"p":"b","s":"c","x":4.80,"y":1.105},{"p":"b","s":"c","x":4.83,"y":0.935},{"p":"b","s":"c","x":4.86,"y":1.030},{"p":"b","s":"c","x":4.89,"y":0.960},{"p":"b","s":"c","x":4.92,"y":0.905},{"p":"b","s":"c","x":4.95,"y":1.073},{"p":"b","s":"c","x":4.98,"y":0.940},
{"p":"b","s":"c","x":5.01,"y":1.042},{"p":"b","s":"c","x":5.04,"y":0.929},{"p":"b","s":"c","x":5.07,"y":1.080},{"p":"b","s":"c","x":5.10,"y":0.967},{"p":"b","s":"c","x":5.13,"y":1.060},{"p":"b","s":"c","x":5.16,"y":0.925},{"p":"b","s":"c","x":5.19,"y":1.050},{"p":"b","s":"c","x":5.22,"y":0.965},{"p":"b","s":"c","x":5.25,"y":1.095},{"p":"b","s":"c","x":5.28,"y":0.950},{"p":"b","s":"c","x":5.31,"y":1.120},{"p":"b","s":"c","x":5.34,"y":0.925},{"p":"b","s":"c","x":5.37,"y":1.030},{"p":"b","s":"c","x":5.40,"y":1.100},{"p":"b","s":"c","x":5.43,"y":0.910},{"p":"b","s":"c","x":5.46,"y":1.065},{"p":"b","s":"c","x":5.49,"y":0.955},{"p":"b","s":"c","x":5.52,"y":1.040},{"p":"b","s":"c","x":5.55,"y":0.900},{"p":"b","s":"c","x":5.58,"y":1.105},{"p":"b","s":"c","x":5.61,"y":0.924},{"p":"b","s":"c","x":5.64,"y":1.090},{"p":"b","s":"c","x":5.67,"y":0.935},{"p":"b","s":"c","x":5.70,"y":1.060},{"p":"b","s":"c","x":5.73,"y":0.900},{"p":"b","s":"c","x":5.76,"y":1.100},{"p":"b","s":"c","x":5.79,"y":0.945},{"p":"b","s":"c","x":5.82,"y":1.070},{"p":"b","s":"c","x":5.85,"y":0.880},{"p":"b","s":"c","x":5.88,"y":1.085},{"p":"b","s":"c","x":5.91,"y":0.920},{"p":"b","s":"c","x":5.94,"y":1.060},{"p":"b","s":"c","x":5.97,"y":0.850},{"p":"b","s":"c","x":6.00,"y":1.000},
{"p":"b","s":"c","x":2.025,"y":0.980},{"p":"b","s":"c","x":2.055,"y":1.027},{"p":"b","s":"c","x":2.085,"y":0.995},{"p":"b","s":"c","x":2.115,"y":1.019},{"p":"b","s":"c","x":2.145,"y":1.027},{"p":"b","s":"c","x":2.175,"y":0.990},{"p":"b","s":"c","x":2.205,"y":1.011},{"p":"b","s":"c","x":2.235,"y":1.003},{"p":"b","s":"c","x":2.265,"y":0.980},{"p":"b","s":"c","x":2.295,"y":1.042},{"p":"b","s":"c","x":2.325,"y":1.027},{"p":"b","s":"c","x":2.355,"y":0.980},{"p":"b","s":"c","x":2.385,"y":0.996},{"p":"b","s":"c","x":2.415,"y":0.988},{"p":"b","s":"c","x":2.445,"y":1.003},{"p":"b","s":"c","x":2.475,"y":1.050},
{"p":"b","s":"c","x":2.505,"y":1.002},{"p":"b","s":"c","x":2.535,"y":1.058},{"p":"b","s":"c","x":2.565,"y":1.002},{"p":"b","s":"c","x":2.595,"y":1.025},{"p":"b","s":"c","x":2.625,"y":0.991},{"p":"b","s":"c","x":2.655,"y":1.058},{"p":"b","s":"c","x":2.685,"y":1.014},{"p":"b","s":"c","x":2.715,"y":0.980},{"p":"b","s":"c","x":2.745,"y":1.035},{"p":"b","s":"c","x":2.775,"y":1.002},{"p":"b","s":"c","x":2.805,"y":1.036},{"p":"b","s":"c","x":2.835,"y":0.991},{"p":"b","s":"c","x":2.865,"y":1.036},{"p":"b","s":"c","x":2.895,"y":0.969},{"p":"b","s":"c","x":2.925,"y":1.058},{"p":"b","s":"c","x":2.955,"y":0.958},{"p":"b","s":"c","x":2.985,"y":1.036},
{"p":"b","s":"c","x":3.025,"y":0.933},{"p":"b","s":"c","x":3.055,"y":0.962},{"p":"b","s":"c","x":3.085,"y":0.947},{"p":"b","s":"c","x":3.115,"y":1.034},{"p":"b","s":"c","x":3.145,"y":1.063},{"p":"b","s":"c","x":3.175,"y":1.049},{"p":"b","s":"c","x":3.205,"y":1.020},{"p":"b","s":"c","x":3.235,"y":0.933},{"p":"b","s":"c","x":3.265,"y":1.063},{"p":"b","s":"c","x":3.295,"y":0.991},{"p":"b","s":"c","x":3.325,"y":0.976},{"p":"b","s":"c","x":3.355,"y":1.034},{"p":"b","s":"c","x":3.385,"y":0.933},{"p":"b","s":"c","x":3.415,"y":0.962},{"p":"b","s":"c","x":3.445,"y":1.034},{"p":"b","s":"c","x":3.475,"y":0.950},{"p":"b","s":"c","x":3.505,"y":1.045},{"p":"b","s":"c","x":3.535,"y":1.005},{"p":"b","s":"c","x":3.565,"y":0.976},{"p":"b","s":"c","x":3.595,"y":1.063},{"p":"b","s":"c","x":3.625,"y":0.962},{"p":"b","s":"c","x":3.655,"y":0.947},{"p":"b","s":"c","x":3.685,"y":1.034},{"p":"b","s":"c","x":3.715,"y":0.947},{"p":"b","s":"c","x":3.745,"y":1.034},{"p":"b","s":"c","x":3.775,"y":1.020},{"p":"b","s":"c","x":3.805,"y":0.962},{"p":"b","s":"c","x":3.835,"y":1.063},{"p":"b","s":"c","x":3.865,"y":0.976},{"p":"b","s":"c","x":3.895,"y":0.947},{"p":"b","s":"c","x":3.925,"y":1.034},{"p":"b","s":"c","x":3.955,"y":1.020},{"p":"b","s":"c","x":3.985,"y":0.940},
{"p":"b","s":"c","x":4.025,"y":1.006},{"p":"b","s":"c","x":4.055,"y":0.956},{"p":"b","s":"c","x":4.085,"y":0.973},{"p":"b","s":"c","x":4.115,"y":1.056},{"p":"b","s":"c","x":4.145,"y":0.990},{"p":"b","s":"c","x":4.175,"y":1.023},{"p":"b","s":"c","x":4.205,"y":1.040},{"p":"b","s":"c","x":4.235,"y":0.990},{"p":"b","s":"c","x":4.265,"y":1.056},{"p":"b","s":"c","x":4.295,"y":0.940},{"p":"b","s":"c","x":4.325,"y":1.056},{"p":"b","s":"c","x":4.355,"y":0.990},{"p":"b","s":"c","x":4.385,"y":1.023},{"p":"b","s":"c","x":4.415,"y":1.040},{"p":"b","s":"c","x":4.445,"y":0.960},{"p":"b","s":"c","x":4.475,"y":1.023},{"p":"b","s":"c","x":4.505,"y":1.073},{"p":"b","s":"c","x":4.535,"y":0.990},{"p":"b","s":"c","x":4.565,"y":0.923},{"p":"b","s":"c","x":4.595,"y":1.006},{"p":"b","s":"c","x":4.625,"y":0.940},{"p":"b","s":"c","x":4.655,"y":0.973},{"p":"b","s":"c","x":4.685,"y":0.956},{"p":"b","s":"c","x":4.715,"y":0.923},{"p":"b","s":"c","x":4.745,"y":1.030},{"p":"b","s":"c","x":4.775,"y":0.923},{"p":"b","s":"c","x":4.805,"y":1.006},{"p":"b","s":"c","x":4.835,"y":1.023},{"p":"b","s":"c","x":4.865,"y":1.056},{"p":"b","s":"c","x":4.895,"y":0.940},{"p":"b","s":"c","x":4.925,"y":0.956},{"p":"b","s":"c","x":4.955,"y":1.040},{"p":"b","s":"c","x":4.985,"y":0.940},
{"p":"b","s":"c","x":5.025,"y":0.981},{"p":"b","s":"c","x":5.055,"y":0.999},{"p":"b","s":"c","x":5.085,"y":0.943},{"p":"b","s":"c","x":5.115,"y":1.018},{"p":"b","s":"c","x":5.145,"y":0.962},{"p":"b","s":"c","x":5.175,"y":0.999},{"p":"b","s":"c","x":5.205,"y":1.018},{"p":"b","s":"c","x":5.235,"y":0.905},{"p":"b","s":"c","x":5.265,"y":1.056},{"p":"b","s":"c","x":5.295,"y":0.943},{"p":"b","s":"c","x":5.325,"y":1.037},{"p":"b","s":"c","x":5.355,"y":1.037},{"p":"b","s":"c","x":5.385,"y":1.056},{"p":"b","s":"c","x":5.415,"y":0.999},{"p":"b","s":"c","x":5.445,"y":1.037},{"p":"b","s":"c","x":5.475,"y":0.960},{"p":"b","s":"c","x":5.505,"y":0.924},{"p":"b","s":"c","x":5.535,"y":0.962},{"p":"b","s":"c","x":5.565,"y":0.981},{"p":"b","s":"c","x":5.595,"y":0.943},{"p":"b","s":"c","x":5.625,"y":1.037},{"p":"b","s":"c","x":5.655,"y":0.999},{"p":"b","s":"c","x":5.685,"y":1.037},{"p":"b","s":"c","x":5.715,"y":1.037},{"p":"b","s":"c","x":5.745,"y":1.056},{"p":"b","s":"c","x":5.775,"y":1.075},{"p":"b","s":"c","x":5.805,"y":1.018},{"p":"b","s":"c","x":5.835,"y":0.900},{"p":"b","s":"c","x":5.865,"y":1.070},{"p":"b","s":"c","x":5.895,"y":0.920},{"p":"b","s":"c","x":5.925,"y":1.030},{"p":"b","s":"c","x":5.955,"y":0.957},{"p":"b","s":"c","x":5.985,"y":1.010},

{"p":"b","s":"r","x":0.055,"y":0.003,"m":1,"e":0.055},{"p":"b","s":"r","x":0.08,"y":0.035},{"p":"b","s":"r","x":0.1,"y":0.07},{"p":"b","s":"r","x":0.125,"y":0.13},{"p":"b","s":"r","x":0.152,"y":0.2},{"p":"b","s":"r","x":0.2,"y":0.36},{"p":"b","s":"r","x":0.249,"y":0.515},{"p":"b","s":"r","x":0.3,"y":0.655},{"p":"b","s":"r","x":0.36,"y":0.777,"m":1,"e":0.055},{"p":"b","s":"r","x":0.4,"y":0.84},{"p":"b","s":"r","x":0.45,"y":0.895},{"p":"b","s":"r","x":0.5,"y":0.935},{"p":"b","s":"r","x":0.55,"y":0.962},{"p":"b","s":"r","x":0.6,"y":0.984},{"p":"b","s":"r","x":0.66,"y":1.0,"m":1,"e":0.055},{"p":"b","s":"r","x":0.76,"y":1.012},{"p":"b","s":"r","x":0.86,"y":1.016},{"p":"b","s":"r","x":0.96,"y":1.022,"m":1,"e":0.055},{"p":"b","s":"r","x":1.06,"y":1.025},{"p":"b","s":"r","x":1.16,"y":1.022},{"p":"b","s":"r","x":1.26,"y":1.022,"m":1,"e":0.055},{"p":"b","s":"r","x":1.36,"y":1.022},{"p":"b","s":"r","x":1.46,"y":1.024},{"p":"b","s":"r","x":1.56,"y":1.025,"m":1,"e":0.055},{"p":"b","s":"r","x":1.66,"y":1.023},{"p":"b","s":"r","x":1.76,"y":1.021},{"p":"b","s":"r","x":1.86,"y":1.021,"m":1,"e":0.055},{"p":"b","s":"r","x":1.96,"y":1.02},{"p":"b","s":"r","x":2.06,"y":1.019},{"p":"b","s":"r","x":2.16,"y":1.018,"m":1,"e":0.065},{"p":"b","s":"r","x":2.26,"y":1.017},{"p":"b","s":"r","x":2.36,"y":1.015},{"p":"b","s":"r","x":2.46,"y":1.016,"m":1,"e":0.065},{"p":"b","s":"r","x":2.56,"y":1.013},{"p":"b","s":"r","x":2.66,"y":1.011},{"p":"b","s":"r","x":2.76,"y":1.01,"m":1,"e":0.065},{"p":"b","s":"r","x":2.86,"y":1.008},{"p":"b","s":"r","x":2.96,"y":1.007},{"p":"b","s":"r","x":3.06,"y":1.005,"m":1,"e":0.065},{"p":"b","s":"r","x":3.16,"y":1.003},{"p":"b","s":"r","x":3.26,"y":1.002},{"p":"b","s":"r","x":3.36,"y":1.002,"m":1,"e":0.065},{"p":"b","s":"r","x":3.46,"y":1.0},{"p":"b","s":"r","x":3.56,"y":0.999},{"p":"b","s":"r","x":3.66,"y":0.998,"m":1,"e":0.065},{"p":"b","s":"r","x":3.76,"y":0.998},{"p":"b","s":"r","x":3.86,"y":0.997},{"p":"b","s":"r","x":3.96,"y":0.995,"m":1,"e":0.065},{"p":"b","s":"r","x":4.06,"y":0.996},{"p":"b","s":"r","x":4.16,"y":0.997},{"p":"b","s":"r","x":4.26,"y":0.999,"m":1,"e":0.065},{"p":"b","s":"r","x":4.36,"y":1.0},{"p":"b","s":"r","x":4.46,"y":1.001},{"p":"b","s":"r","x":4.56,"y":1.002,"m":1,"e":0.065},{"p":"b","s":"r","x":4.66,"y":1.001},{"p":"b","s":"r","x":4.76,"y":1.002},{"p":"b","s":"r","x":4.86,"y":1.003,"m":1,"e":0.065},{"p":"b","s":"r","x":4.96,"y":1.0},{"p":"b","s":"r","x":5.06,"y":0.999},{"p":"b","s":"r","x":5.16,"y":1.0,"m":1,"e":0.065},{"p":"b","s":"r","x":5.26,"y":0.996},{"p":"b","s":"r","x":5.36,"y":0.995},{"p":"b","s":"r","x":5.46,"y":0.994,"m":1,"e":0.065},{"p":"b","s":"r","x":5.56,"y":0.993},{"p":"b","s":"r","x":5.66,"y":0.991},{"p":"b","s":"r","x":5.76,"y":0.988,"m":1,"e":0.065},{"p":"b","s":"r","x":5.86,"y":0.985},{"p":"b","s":"r","x":5.96,"y":0.982},{"p":"b","s":"r","x":6.0,"y":0.982},

{"p":"b","s":"g","x":0.055,"y":0.002},{"p":"b","s":"g","x":0.08,"y":0.033},{"p":"b","s":"g","x":0.1,"y":0.068},{"p":"b","s":"g","x":0.125,"y":0.128},{"p":"b","s":"g","x":0.152,"y":0.199,"m":1,"e":0.055},{"p":"b","s":"g","x":0.2,"y":0.355},{"p":"b","s":"g","x":0.249,"y":0.508},{"p":"b","s":"g","x":0.3,"y":0.645},{"p":"b","s":"g","x":0.36,"y":0.765},{"p":"b","s":"g","x":0.4,"y":0.825},{"p":"b","s":"g","x":0.456,"y":0.893,"m":1,"e":0.055},{"p":"b","s":"g","x":0.5,"y":0.928},{"p":"b","s":"g","x":0.55,"y":0.955},{"p":"b","s":"g","x":0.6,"y":0.975},{"p":"b","s":"g","x":0.65,"y":0.99},{"p":"b","s":"g","x":0.76,"y":1.003,"m":1,"e":0.055},{"p":"b","s":"g","x":0.86,"y":1.007},{"p":"b","s":"g","x":0.96,"y":1.012},{"p":"b","s":"g","x":1.06,"y":1.019,"m":1,"e":0.055},{"p":"b","s":"g","x":1.16,"y":1.021},{"p":"b","s":"g","x":1.26,"y":1.02},{"p":"b","s":"g","x":1.36,"y":1.021,"m":1,"e":0.055},{"p":"b","s":"g","x":1.46,"y":1.022},{"p":"b","s":"g","x":1.56,"y":1.022},{"p":"b","s":"g","x":1.66,"y":1.021,"m":1,"e":0.055},{"p":"b","s":"g","x":1.76,"y":1.02},{"p":"b","s":"g","x":1.86,"y":1.019},{"p":"b","s":"g","x":1.96,"y":1.018,"m":1,"e":0.055},{"p":"b","s":"g","x":2.06,"y":1.017},{"p":"b","s":"g","x":2.16,"y":1.016},{"p":"b","s":"g","x":2.26,"y":1.015,"m":1,"e":0.065},{"p":"b","s":"g","x":2.36,"y":1.014},{"p":"b","s":"g","x":2.46,"y":1.013},{"p":"b","s":"g","x":2.56,"y":1.012,"m":1,"e":0.065},{"p":"b","s":"g","x":2.66,"y":1.01},{"p":"b","s":"g","x":2.76,"y":1.009},{"p":"b","s":"g","x":2.86,"y":1.008,"m":1,"e":0.065},{"p":"b","s":"g","x":2.96,"y":1.006},{"p":"b","s":"g","x":3.06,"y":1.004},{"p":"b","s":"g","x":3.16,"y":1.003,"m":1,"e":0.065},{"p":"b","s":"g","x":3.26,"y":1.002},{"p":"b","s":"g","x":3.36,"y":1.001},{"p":"b","s":"g","x":3.46,"y":1.0,"m":1,"e":0.065},{"p":"b","s":"g","x":3.56,"y":0.999},{"p":"b","s":"g","x":3.66,"y":0.998},{"p":"b","s":"g","x":3.76,"y":0.997,"m":1,"e":0.065},{"p":"b","s":"g","x":3.86,"y":0.996},{"p":"b","s":"g","x":3.96,"y":0.996},{"p":"b","s":"g","x":4.06,"y":0.997,"m":1,"e":0.065},{"p":"b","s":"g","x":4.16,"y":0.998},{"p":"b","s":"g","x":4.26,"y":0.999},{"p":"b","s":"g","x":4.36,"y":1.0,"m":1,"e":0.065},{"p":"b","s":"g","x":4.46,"y":1.001},{"p":"b","s":"g","x":4.56,"y":1.001},{"p":"b","s":"g","x":4.66,"y":1.001,"m":1,"e":0.065},{"p":"b","s":"g","x":4.76,"y":1.0},{"p":"b","s":"g","x":4.86,"y":1.0},{"p":"b","s":"g","x":4.96,"y":0.999,"m":1,"e":0.065},{"p":"b","s":"g","x":5.06,"y":0.998},{"p":"b","s":"g","x":5.16,"y":0.997},{"p":"b","s":"g","x":5.26,"y":0.996,"m":1,"e":0.065},{"p":"b","s":"g","x":5.36,"y":0.995},{"p":"b","s":"g","x":5.46,"y":0.994},{"p":"b","s":"g","x":5.56,"y":0.992,"m":1,"e":0.065},{"p":"b","s":"g","x":5.66,"y":0.99},{"p":"b","s":"g","x":5.76,"y":0.988},{"p":"b","s":"g","x":5.86,"y":0.983,"m":1,"e":0.065},{"p":"b","s":"g","x":5.96,"y":0.982},{"p":"b","s":"g","x":6.0,"y":0.982},

{"p":"b","s":"b","x":0.055,"y":0.002},{"p":"b","s":"b","x":0.08,"y":0.032},{"p":"b","s":"b","x":0.1,"y":0.066},{"p":"b","s":"b","x":0.125,"y":0.125},{"p":"b","s":"b","x":0.152,"y":0.195},{"p":"b","s":"b","x":0.2,"y":0.35},{"p":"b","s":"b","x":0.249,"y":0.51,"m":1,"e":0.055},{"p":"b","s":"b","x":0.3,"y":0.64},{"p":"b","s":"b","x":0.36,"y":0.755},{"p":"b","s":"b","x":0.4,"y":0.815},{"p":"b","s":"b","x":0.45,"y":0.88},{"p":"b","s":"b","x":0.5,"y":0.925},{"p":"b","s":"b","x":0.532,"y":0.947,"m":1,"e":0.055},{"p":"b","s":"b","x":0.6,"y":0.973},{"p":"b","s":"b","x":0.7,"y":0.99},{"p":"b","s":"b","x":0.83,"y":0.999,"m":1,"e":0.055},{"p":"b","s":"b","x":0.93,"y":1.004},{"p":"b","s":"b","x":1.03,"y":1.008},{"p":"b","s":"b","x":1.13,"y":1.011,"m":1,"e":0.055},{"p":"b","s":"b","x":1.23,"y":1.013},{"p":"b","s":"b","x":1.33,"y":1.014},{"p":"b","s":"b","x":1.43,"y":1.015,"m":1,"e":0.055},{"p":"b","s":"b","x":1.53,"y":1.015},{"p":"b","s":"b","x":1.63,"y":1.014},{"p":"b","s":"b","x":1.73,"y":1.013,"m":1,"e":0.055},{"p":"b","s":"b","x":1.83,"y":1.012},{"p":"b","s":"b","x":1.93,"y":1.011},{"p":"b","s":"b","x":2.03,"y":1.011,"m":1,"e":0.065},{"p":"b","s":"b","x":2.13,"y":1.01},{"p":"b","s":"b","x":2.23,"y":1.009},{"p":"b","s":"b","x":2.33,"y":1.008,"m":1,"e":0.065},{"p":"b","s":"b","x":2.43,"y":1.007},{"p":"b","s":"b","x":2.53,"y":1.007},{"p":"b","s":"b","x":2.63,"y":1.006,"m":1,"e":0.065},{"p":"b","s":"b","x":2.73,"y":1.005},{"p":"b","s":"b","x":2.83,"y":1.004},{"p":"b","s":"b","x":2.93,"y":1.003,"m":1,"e":0.065},{"p":"b","s":"b","x":3.03,"y":1.002},{"p":"b","s":"b","x":3.13,"y":1.0},{"p":"b","s":"b","x":3.23,"y":0.999,"m":1,"e":0.065},{"p":"b","s":"b","x":3.33,"y":0.998},{"p":"b","s":"b","x":3.43,"y":0.997},{"p":"b","s":"b","x":3.53,"y":0.996,"m":1,"e":0.065},{"p":"b","s":"b","x":3.63,"y":0.996},{"p":"b","s":"b","x":3.73,"y":0.995},{"p":"b","s":"b","x":3.83,"y":0.994,"m":1,"e":0.065},{"p":"b","s":"b","x":3.93,"y":0.994},{"p":"b","s":"b","x":4.03,"y":0.995},{"p":"b","s":"b","x":4.13,"y":0.997,"m":1,"e":0.065},{"p":"b","s":"b","x":4.23,"y":0.998},{"p":"b","s":"b","x":4.33,"y":0.999},{"p":"b","s":"b","x":4.43,"y":1.0,"m":1,"e":0.065},{"p":"b","s":"b","x":4.53,"y":1.0},{"p":"b","s":"b","x":4.63,"y":0.999},{"p":"b","s":"b","x":4.73,"y":0.999,"m":1,"e":0.065},{"p":"b","s":"b","x":4.83,"y":0.998},{"p":"b","s":"b","x":4.93,"y":0.998},{"p":"b","s":"b","x":5.03,"y":0.997,"m":1,"e":0.065},{"p":"b","s":"b","x":5.13,"y":0.996},{"p":"b","s":"b","x":5.23,"y":0.995},{"p":"b","s":"b","x":5.33,"y":0.994,"m":1,"e":0.065},{"p":"b","s":"b","x":5.43,"y":0.993},{"p":"b","s":"b","x":5.53,"y":0.992},{"p":"b","s":"b","x":5.63,"y":0.99,"m":1,"e":0.065},{"p":"b","s":"b","x":5.73,"y":0.988},{"p":"b","s":"b","x":5.83,"y":0.985},{"p":"b","s":"b","x":5.93,"y":0.977,"m":1,"e":0.065},{"p":"b","s":"b","x":6.0,"y":0.976}
]},
"vconcat": [
{
"width": 868, "height": 676,
"encoding": {
  "x": {"field": "x", "type": "quantitative", "scale": {"domain": [0, 6], "nice": false, "zero": false},
   "axis": {"values": [0,0.2,0.4,0.6,0.8,1,1.2,1.4,1.6,1.8,2,2.2,2.4,2.6,2.8,3,3.2,3.4,3.6,3.8,4,4.2,4.4,4.6,4.8,5,5.2,5.4,5.6,5.8,6],
    "labels": false, "title": null, "grid": true,
    "gridColor": {"condition": {"test": "abs(datum.value - round(datum.value)) < 0.001", "value": "#d6d6d6"}, "value": "#bdbdbd"},
    "gridDash": {"condition": {"test": "abs(datum.value - round(datum.value)) < 0.001", "value": []}, "value": [2, 6]},
    "gridWidth": {"condition": {"test": "abs(datum.value - round(datum.value)) < 0.001", "value": 1.5}, "value": 1},
    "tickOpacity": {"condition": {"test": "abs(datum.value - round(datum.value)) < 0.001", "value": 1}, "value": 0},
    "tickSize": -8, "tickWidth": 2, "tickColor": "#262626", "domainColor": "#262626", "domainWidth": 2}},
  "y": {"field": "y", "type": "quantitative", "scale": {"domain": [0, 1.1], "nice": false, "zero": false},
   "axis": {"values": [0,0.05,0.1,0.15,0.2,0.25,0.3,0.35,0.4,0.45,0.5,0.55,0.6,0.65,0.7,0.75,0.8,0.85,0.9,0.95,1,1.05,1.1],
    "grid": true,
    "gridColor": {"condition": {"test": "abs(datum.value*5 - round(datum.value*5)) < 0.001", "value": "#d6d6d6"}, "value": "#bdbdbd"},
    "gridDash": {"condition": {"test": "abs(datum.value*5 - round(datum.value*5)) < 0.001", "value": []}, "value": [2, 6]},
    "gridWidth": {"condition": {"test": "abs(datum.value*5 - round(datum.value*5)) < 0.001", "value": 1.5}, "value": 1},
    "tickOpacity": {"condition": {"test": "abs(datum.value*5 - round(datum.value*5)) < 0.001", "value": 1}, "value": 0},
    "tickSize": -9, "tickWidth": 2, "tickColor": "#262626", "domainColor": "#262626", "domainWidth": 2,
    "labelExpr": "abs(datum.value*5 - round(datum.value*5)) < 0.001 ? format(datum.value, '.1~f') : ''",
    "labelFontSize": {"condition": {"test": "abs(datum.value*5 - round(datum.value*5)) < 0.001", "value": 26}, "value": 0},
    "labelColor": "#262626", "labelPadding": 22, "labelOverlap": false, "labelFlush": false, "labelFont": "Liberation Sans",
    "title": "Overlap function", "titleFontSize": 42, "titleFontWeight": "bold", "titleColor": "#262626", "titlePadding": 8, "titleFont": "Liberation Sans"}}
},
"layer": [
{"data": {"name": "d"}, "transform": [{"filter": "datum.p == 'a' && datum.s == 'c'"}],
 "mark": {"type": "line", "strokeWidth": 1.1, "clip": true},
 "encoding": {
  "color": {"field": "s", "type": "nominal", "scale": {"domain": ["c","r","g","b"], "range": ["#00ffff","#ff0000","#00ff00","#0000ff"]},
   "legend": {"orient": "none", "legendX": 308, "legendY": 438, "title": null, "symbolType": "M-3.9,0H3.9", "symbolSize": 400, "symbolOffset": 23, "labelOffset": 32, "symbolStrokeWidth": 1.6, "symbolOpacity": 1, "labelFontSize": 31.5, "labelFont": "Liberation Sans", "labelColor": "black", "labelLimit": 0, "rowPadding": 10, "padding": 10, "strokeColor": "black", "fillColor": "white",
    "labelExpr": "datum.label == 'c' ? 'LR = 50sr, raw signals' : datum.label == 'r' ? 'LR = 25sr, smoothed signals' : datum.label == 'g' ? 'LR = 50sr, smoothed signals' : 'LR = 75sr, smoothed signals'"}}
 }},
{"data": {"name": "d"}, "transform": [{"filter": "datum.p == 'a' && datum.s != 'c'"}],
 "mark": {"type": "line", "strokeWidth": 1.5, "clip": true},
 "encoding": {"color": {"field": "s", "type": "nominal"}}},
{"data": {"name": "d"}, "transform": [{"filter": "datum.p == 'a' && datum.m == 1"}],
 "mark": {"type": "errorbar", "thickness": 2},
 "encoding": {"xError": {"field": "e"}, "color": {"field": "s", "type": "nominal"}}},
{"data": {"name": "d"}, "transform": [{"filter": "datum.p == 'a' && datum.m == 1"}],
 "mark": {"type": "point", "filled": true, "size": 22, "opacity": 1},
 "encoding": {"color": {"field": "s", "type": "nominal"}}},
{"data": {"values": [{"x": 0.395, "y": 0, "y2": 1.1}]},
 "mark": {"type": "rule", "color": "black", "strokeWidth": 1.5, "strokeDash": [17, 11]},
 "encoding": {"y2": {"field": "y2"}}},
{"data": {"values": [{"x": 2.13, "y": 0.865, "t": "355 nm - 354 nm"}]},
 "mark": {"type": "text", "align": "left", "baseline": "middle", "fontSize": 31, "color": "black", "font": "Liberation Sans"},
 "encoding": {"text": {"field": "t"}}}
]
},
{
"width": 868, "height": 676,
"encoding": {
  "x": {"field": "x", "type": "quantitative", "scale": {"domain": [0, 6], "nice": false, "zero": false},
   "axis": {"values": [0,0.2,0.4,0.6,0.8,1,1.2,1.4,1.6,1.8,2,2.2,2.4,2.6,2.8,3,3.2,3.4,3.6,3.8,4,4.2,4.4,4.6,4.8,5,5.2,5.4,5.6,5.8,6],
    "grid": true,
    "gridColor": {"condition": {"test": "abs(datum.value - round(datum.value)) < 0.001", "value": "#d6d6d6"}, "value": "#bdbdbd"},
    "gridDash": {"condition": {"test": "abs(datum.value - round(datum.value)) < 0.001", "value": []}, "value": [2, 6]},
    "gridWidth": {"condition": {"test": "abs(datum.value - round(datum.value)) < 0.001", "value": 1.5}, "value": 1},
    "tickOpacity": {"condition": {"test": "abs(datum.value - round(datum.value)) < 0.001", "value": 1}, "value": 0},
    "tickSize": -8, "tickWidth": 2, "tickColor": "#262626", "domainColor": "#262626", "domainWidth": 2,
    "labelExpr": "abs(datum.value - round(datum.value)) < 0.001 ? format(datum.value, 'd') : ''",
    "labelFontSize": {"condition": {"test": "abs(datum.value - round(datum.value)) < 0.001", "value": 26}, "value": 0},
    "labelColor": "#262626", "labelPadding": 23, "labelOverlap": false, "labelFlush": false, "labelFont": "Liberation Sans",
    "title": "Altitude above the lidar (km)", "titleFontSize": 42, "titleFontWeight": "bold", "titleColor": "#262626", "titlePadding": 15, "titleFont": "Liberation Sans"}},
  "y": {"field": "y", "type": "quantitative", "scale": {"domain": [0, 1.1], "nice": false, "zero": false},
   "axis": {"values": [0,0.05,0.1,0.15,0.2,0.25,0.3,0.35,0.4,0.45,0.5,0.55,0.6,0.65,0.7,0.75,0.8,0.85,0.9,0.95,1,1.05,1.1],
    "grid": true,
    "gridColor": {"condition": {"test": "abs(datum.value*5 - round(datum.value*5)) < 0.001", "value": "#d6d6d6"}, "value": "#bdbdbd"},
    "gridDash": {"condition": {"test": "abs(datum.value*5 - round(datum.value*5)) < 0.001", "value": []}, "value": [2, 6]},
    "gridWidth": {"condition": {"test": "abs(datum.value*5 - round(datum.value*5)) < 0.001", "value": 1.5}, "value": 1},
    "tickOpacity": {"condition": {"test": "abs(datum.value*5 - round(datum.value*5)) < 0.001", "value": 1}, "value": 0},
    "tickSize": -9, "tickWidth": 2, "tickColor": "#262626", "domainColor": "#262626", "domainWidth": 2,
    "labelExpr": "abs(datum.value*5 - round(datum.value*5)) < 0.001 ? format(datum.value, '.1~f') : ''",
    "labelFontSize": {"condition": {"test": "abs(datum.value*5 - round(datum.value*5)) < 0.001", "value": 26}, "value": 0},
    "labelColor": "#262626", "labelPadding": 22, "labelOverlap": false, "labelFlush": false, "labelFont": "Liberation Sans",
    "title": "Overlap function", "titleFontSize": 42, "titleFontWeight": "bold", "titleColor": "#262626", "titlePadding": 8, "titleFont": "Liberation Sans"}}
},
"layer": [
{"data": {"name": "d"}, "transform": [{"filter": "datum.p == 'b' && datum.s == 'c'"}],
 "mark": {"type": "line", "strokeWidth": 1.1, "clip": true},
 "encoding": {
  "color": {"field": "s", "type": "nominal", "scale": {"domain": ["c","r","g","b"], "range": ["#00ffff","#ff0000","#00ff00","#0000ff"]},
   "legend": {"orient": "none", "legendX": 262, "legendY": 420, "title": null, "symbolType": "M-3.9,0H3.9", "symbolSize": 400, "symbolOffset": 23, "labelOffset": 32, "symbolStrokeWidth": 1.6, "symbolOpacity": 1, "labelFontSize": 31.5, "labelFont": "Liberation Sans", "labelColor": "black", "labelLimit": 0, "rowPadding": 10, "padding": 10, "strokeColor": "black", "fillColor": "white",
    "labelExpr": "datum.label == 'c' ? 'LR = 50sr, raw signals' : datum.label == 'r' ? 'LR = 25sr, smoothed signals' : datum.label == 'g' ? 'LR = 50sr, smoothed signals' : 'LR = 75sr, smoothed signals'"}}
 }},
{"data": {"name": "d"}, "transform": [{"filter": "datum.p == 'b' && datum.s != 'c'"}],
 "mark": {"type": "line", "strokeWidth": 1.5, "clip": true},
 "encoding": {"color": {"field": "s", "type": "nominal"}}},
{"data": {"name": "d"}, "transform": [{"filter": "datum.p == 'b' && datum.m == 1"}],
 "mark": {"type": "errorbar", "thickness": 2},
 "encoding": {"xError": {"field": "e"}, "color": {"field": "s", "type": "nominal"}}},
{"data": {"name": "d"}, "transform": [{"filter": "datum.p == 'b' && datum.m == 1"}],
 "mark": {"type": "point", "filled": true, "size": 22, "opacity": 1},
 "encoding": {"color": {"field": "s", "type": "nominal"}}},
{"data": {"values": [{"x": 0.415, "y": 0, "y2": 1.1}]},
 "mark": {"type": "rule", "color": "black", "strokeWidth": 1.5, "strokeDash": [17, 11]},
 "encoding": {"y2": {"field": "y2"}}},
{"data": {"values": [{"x": 2.185, "y": 0.826, "t": "532 nm - 607 nm"}]},
 "mark": {"type": "text", "align": "left", "baseline": "middle", "fontSize": 31, "color": "black", "font": "Liberation Sans"},
 "encoding": {"text": {"field": "t"}}}
]
}
]
}
